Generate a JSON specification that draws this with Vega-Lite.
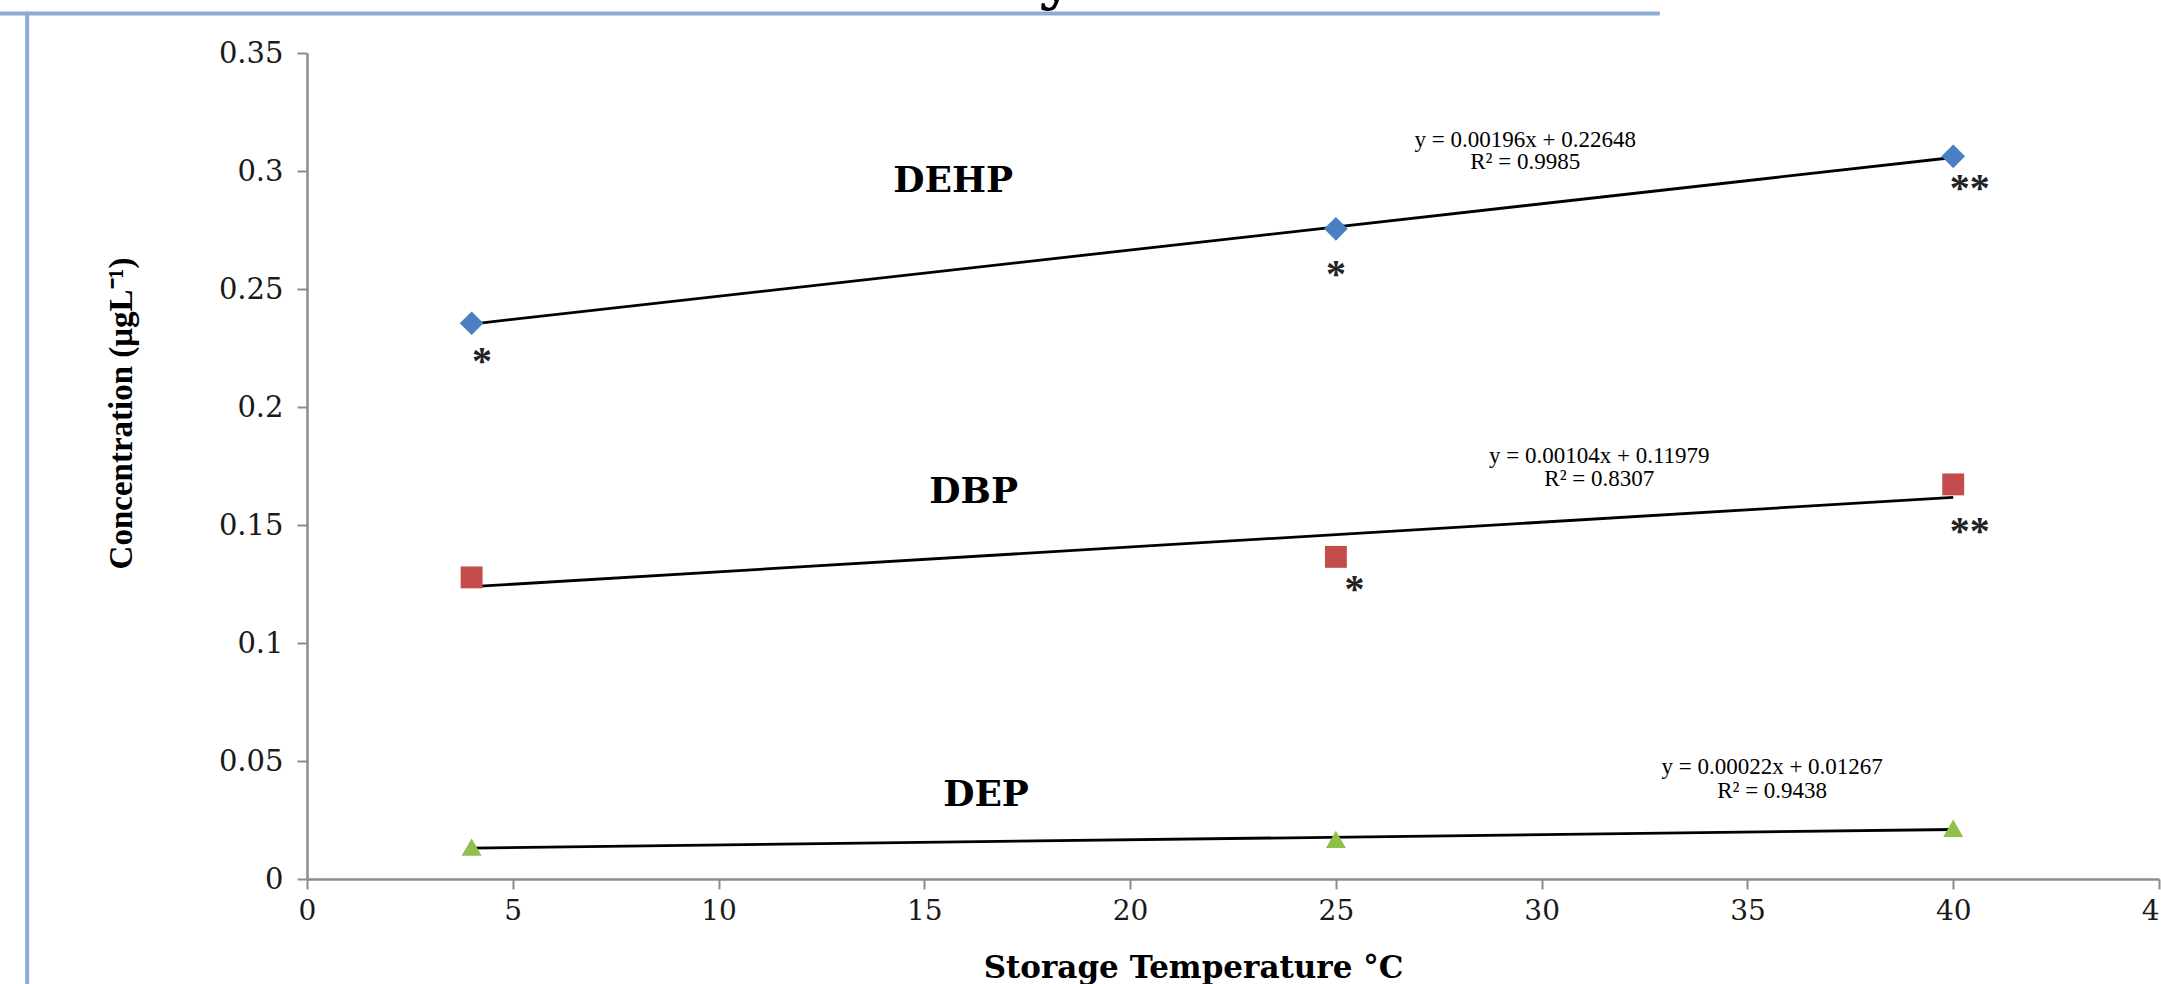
{
  "$schema": "https://vega.github.io/schema/vega-lite/v6.json",
  "width": 1852,
  "height": 826,
  "autosize": "none",
  "padding": {"left": 307, "top": 53, "right": 2, "bottom": 105},
  "background": "white",
  "config": {"view": {"stroke": null}, "font": "DejaVu Serif"},
  "datasets": {
    "points": [
      {"series": "DEHP", "temp": 4, "value": 0.2355},
      {"series": "DEHP", "temp": 25, "value": 0.2755},
      {"series": "DEHP", "temp": 40, "value": 0.3062},
      {"series": "DBP", "temp": 4, "value": 0.1278},
      {"series": "DBP", "temp": 25, "value": 0.1365},
      {"series": "DBP", "temp": 40, "value": 0.1672},
      {"series": "DEP", "temp": 4, "value": 0.0135},
      {"series": "DEP", "temp": 25, "value": 0.0168},
      {"series": "DEP", "temp": 40, "value": 0.0215}
    ],
    "labels": [
      {"temp": 15.7, "value": 0.2956, "text": "DEHP"},
      {"temp": 16.2, "value": 0.1640, "text": "DBP"},
      {"temp": 16.5, "value": 0.0357, "text": "DEP"}
    ],
    "equations": [
      {"temp": 29.6, "value": 0.3131, "text": "y = 0.00196x + 0.22648"},
      {"temp": 29.6, "value": 0.3038, "text": "R² = 0.9985"},
      {"temp": 31.4, "value": 0.1791, "text": "y = 0.00104x + 0.11979"},
      {"temp": 31.4, "value": 0.1694, "text": "R² = 0.8307"},
      {"temp": 35.6, "value": 0.0474, "text": "y = 0.00022x + 0.01267"},
      {"temp": 35.6, "value": 0.0372, "text": "R² = 0.9438"}
    ],
    "stars": [
      {"temp": 4.25, "value": 0.2224, "text": "*"},
      {"temp": 25.0, "value": 0.2593, "text": "*"},
      {"temp": 40.4, "value": 0.2956, "text": "**"},
      {"temp": 25.45, "value": 0.1258, "text": "*"},
      {"temp": 40.4, "value": 0.1504, "text": "**"}
    ]
  },
  "layer": [
    {
      "data": {"values": [{}]},
      "mark": {"type": "rule", "color": "#8eaad6", "strokeWidth": 4},
      "encoding": {
        "x": {"datum": -7.6, "type": "quantitative", "scale": {"domain": [0, 45], "nice": false}},
        "x2": {"datum": 32.87},
        "y": {"datum": 0.3667, "type": "quantitative", "scale": {"domain": [0, 0.35], "nice": false}}
      }
    },
    {
      "data": {"values": [{}]},
      "mark": {"type": "rule", "color": "#8eaad6", "strokeWidth": 4},
      "encoding": {
        "x": {"datum": -6.8, "type": "quantitative"},
        "y": {"datum": 0.3675, "type": "quantitative"},
        "y2": {"datum": -0.06}
      }
    },
    {
      "data": {"values": [{}]},
      "mark": {"type": "text", "text": "y", "fontSize": 60, "font": "DejaVu Serif", "fontWeight": "bold", "baseline": "alphabetic", "align": "center", "color": "black"},
      "encoding": {
        "x": {"datum": 18.2, "type": "quantitative"},
        "y": {"datum": 0.3735, "type": "quantitative"}
      }
    },
    {
      "data": {"name": "points"},
      "transform": [
        {"regression": "value", "on": "temp", "groupby": ["series"], "extent": [4, 40]}
      ],
      "mark": {"type": "line", "color": "black", "strokeWidth": 2.8},
      "encoding": {
        "x": {
          "field": "temp", "type": "quantitative",
          "scale": {"domain": [0, 45], "nice": false},
          "axis": {
            "values": [0, 5, 10, 15, 20, 25, 30, 35, 40, 45],
            "title": "Storage Temperature °C",
            "grid": false,
            "domainColor": "#8c8c8c", "domainWidth": 2.5,
            "tickColor": "#8c8c8c", "tickWidth": 2, "tickSize": 10,
            "labelFont": "DejaVu Serif", "labelFontSize": 28, "labelColor": "#1a1a1a",
            "labelPadding": 8, "labelFlush": false, "labelOverlap": false,
            "titleFont": "DejaVu Serif", "titleFontWeight": "bold", "titleFontSize": 31, "titleColor": "black",
            "titleBaseline": "alphabetic", "titleY": 98, "titleX": 886, "titleAnchor": "middle"
          }
        },
        "y": {
          "field": "value", "type": "quantitative",
          "scale": {"domain": [0, 0.35], "nice": false},
          "axis": {
            "values": [0, 0.05, 0.1, 0.15, 0.2, 0.25, 0.3, 0.35],
            "format": "~g",
            "title": "Concentration (μgL⁻¹)",
            "grid": false,
            "domainColor": "#8c8c8c", "domainWidth": 2.5,
            "tickColor": "#8c8c8c", "tickWidth": 2, "tickSize": 10,
            "labelFont": "DejaVu Serif", "labelFontSize": 29, "labelColor": "#1a1a1a",
            "labelPadding": 14, "labelOverlap": false,
            "titleFont": "Liberation Serif", "titleFontWeight": "bold", "titleFontSize": 33, "titleColor": "black",
            "titleX": -186, "titleY": 360, "titleBaseline": "middle", "titleAngle": -90, "titleAlign": "center"
          }
        },
        "detail": {"field": "series"}
      }
    },
    {
      "data": {"name": "points"},
      "mark": {"type": "point", "filled": true, "opacity": 1},
      "encoding": {
        "x": {"field": "temp", "type": "quantitative"},
        "y": {"field": "value", "type": "quantitative"},
        "shape": {"field": "series", "type": "nominal", "scale": {"domain": ["DEHP", "DBP", "DEP"], "range": ["diamond", "square", "triangle-up"]}, "legend": null},
        "color": {"field": "series", "type": "nominal", "scale": {"domain": ["DEHP", "DBP", "DEP"], "range": ["#4a7fc4", "#c44d4b", "#8fc04a"]}, "legend": null},
        "size": {"field": "series", "type": "nominal", "scale": {"domain": ["DEHP", "DBP", "DEP"], "range": [560, 400, 620]}, "legend": null}
      }
    },
    {
      "data": {"name": "labels"},
      "mark": {"type": "text", "font": "DejaVu Serif", "fontWeight": "bold", "fontSize": 36, "color": "black", "align": "center", "baseline": "middle"},
      "encoding": {
        "x": {"field": "temp", "type": "quantitative"},
        "y": {"field": "value", "type": "quantitative"},
        "text": {"field": "text"}
      }
    },
    {
      "data": {"name": "equations"},
      "mark": {"type": "text", "font": "Liberation Serif", "fontSize": 23, "color": "black", "align": "center", "baseline": "middle"},
      "encoding": {
        "x": {"field": "temp", "type": "quantitative"},
        "y": {"field": "value", "type": "quantitative"},
        "text": {"field": "text"}
      }
    },
    {
      "data": {"name": "stars"},
      "mark": {"type": "text", "font": "Liberation Serif", "fontWeight": "bold", "fontSize": 40, "color": "#222222", "align": "center", "baseline": "middle", "dy": 8},
      "encoding": {
        "x": {"field": "temp", "type": "quantitative"},
        "y": {"field": "value", "type": "quantitative"},
        "text": {"field": "text"}
      }
    }
  ]
}
